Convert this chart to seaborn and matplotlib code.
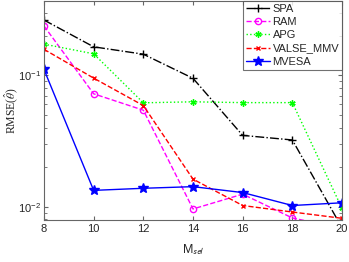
import numpy as np
import pandas as pd
import seaborn as sns
import matplotlib
matplotlib.use('Agg')
import matplotlib.pyplot as plt

# data
m_sel = [8, 10, 12, 14, 16, 18, 20]
spa = [0.264, 0.165, 0.145, 0.095, 0.0349, 0.0322, 0.0069]
ram = [0.238, 0.0724, 0.0543, 0.0096, 0.01245, 0.0082, 0.0068]
apg = [0.173, 0.146, 0.0618, 0.0629, 0.062, 0.062, 0.0097]
valse = [0.158, 0.0953, 0.0589, 0.0162, 0.0102, 0.0091, 0.00815]
mvesa = [0.111, 0.0133, 0.0138, 0.0142, 0.0128, 0.0102, 0.0107]

names = ['SPA', 'RAM', 'APG', 'VALSE_MMV', 'MVESA']
series = [spa, ram, apg, valse, mvesa]
colors = ['black', 'magenta', '#00ff00', 'red', 'blue']
styles = ['-.', '--', ':', '--', '-']
markers = ['+', 'o', (6, 2, 0), 'x', '*']
msizes = [5.5, 4.5, 4.5, 3.5, 7]

sns.set_style('ticks')
plt.rcParams['font.family'] = ['Liberation Sans', 'DejaVu Sans']
plt.rcParams['mathtext.fontset'] = 'stix'
plt.rcParams['xtick.direction'] = 'in'
plt.rcParams['ytick.direction'] = 'in'

fig = plt.figure(figsize=(3.49, 2.62), dpi=100)
ax = fig.add_axes([0.126, 0.16, 0.854, 0.837])

for name, vals, c, ls, mk, ms in zip(names, series, colors, styles, markers, msizes):
    df = pd.DataFrame({'M': m_sel, 'rmse': vals})
    sns.lineplot(data=df, x='M', y='rmse', ax=ax, color=c, linestyle=ls,
                 marker=mk, markersize=ms, linewidth=1, label=name,
                 markerfacecolor=(c if mk == '*' else 'none'),
                 markeredgecolor=c, markeredgewidth=1)

ax.set_yscale('log')
ax.set_xlim(8, 20)
ax.set_ylim(0.0079, 0.37)
ax.set_xticks([8, 10, 12, 14, 16, 18, 20])
ax.tick_params(labelsize=8, length=3, top=True, right=True, color='0.4', pad=3)
ax.tick_params(axis='y', pad=2)
ax.tick_params(which='minor', length=2, top=True, right=True, color='0.4')
for sp in ax.spines.values():
    sp.set_color('0.4')
    sp.set_linewidth(0.8)

ax.set_xlabel(r'M$_{\mathsf{sel}}$', fontsize=9, labelpad=6)
ax.set_ylabel(r'RMSE($\hat{\theta}$)', fontsize=8.5, family='Liberation Serif')
ax.yaxis.set_label_coords(-0.082, 0.5)

leg = ax.legend(loc='upper right', fontsize=8, frameon=True, fancybox=False,
                borderaxespad=0, handlelength=2.2, labelspacing=0.3,
                borderpad=0.25, handletextpad=0.2)
leg.get_frame().set_edgecolor('0.3')
leg.get_frame().set_linewidth(0.8)

fig.savefig('out.png', dpi=100)
